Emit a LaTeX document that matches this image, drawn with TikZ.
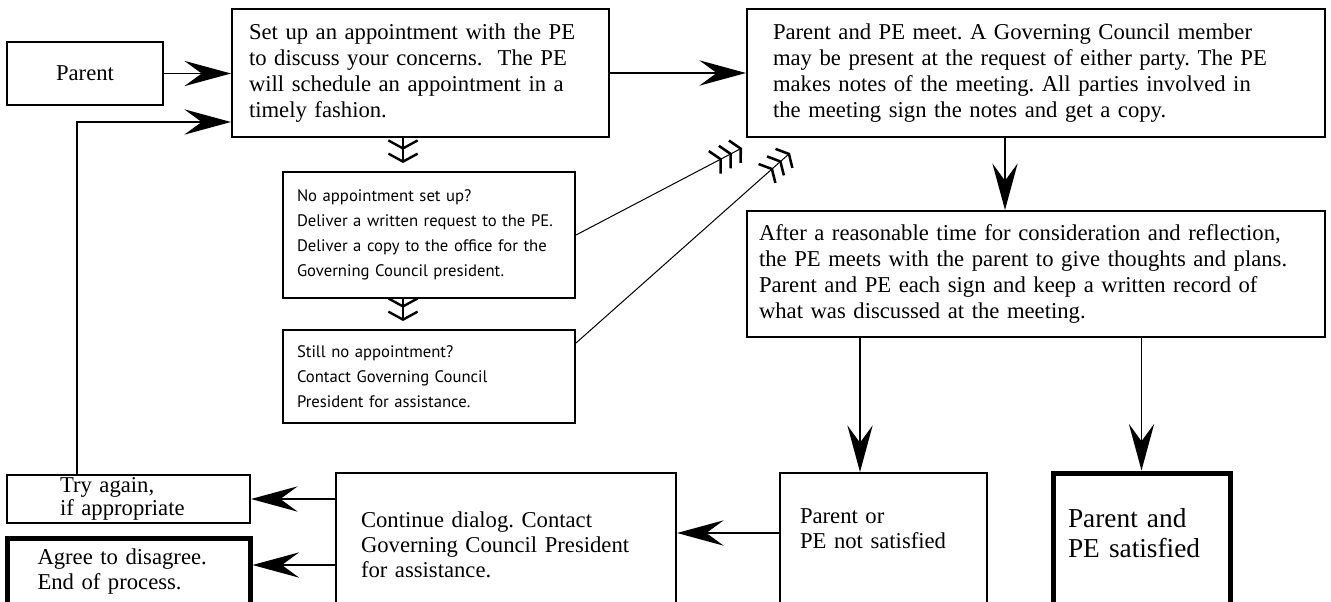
\documentclass[tikz,border=0pt]{standalone}
\usepackage{fontspec}
\setmainfont{Liberation Serif}
\newfontfamily\notefont{PT Sans}
\usetikzlibrary{arrows.meta}
\newlength{\px}
\setlength{\px}{0.75pt}
\frenchspacing

\begin{document}
\begin{tikzpicture}[x=0.75pt, y=-0.75pt,
  box/.style={draw, line width=2\px, align=left, inner ysep=0pt,
    font=\fontsize{17}{19.5}\selectfont},
  low/.style={font=\fontsize{17}{18.75}\selectfont},
  note/.style={box, font=\notefont\fontsize{12.5}{18.75}\selectfont},
  heavy/.style={line width=5\px},
  flow/.style={line width=1.6\px, -{Stealth[length=35pt, width=19pt, inset=13pt]}},
  hop/.style={line width=1.6\px, shorten >=8\px,
    -{Straight Barb[length=6pt, width=22pt, line width=1.8pt, sep=2pt]
      Straight Barb[length=6pt, width=22pt, line width=1.8pt]}},
  hint/.style={line width=1\px,
    -{Straight Barb[length=5pt, width=19pt, line width=1.9pt, sep=1.5pt]
      Straight Barb[length=5pt, width=19pt, line width=1.9pt, sep=1.5pt]
      Straight Barb[length=5pt, width=19pt, line width=1.9pt]}}]

\clip (0,0) rectangle (1331,602);

% top row
\node[box, minimum width=156\px, minimum height=63\px, align=center] (parent) at (85,73.5) {Parent};
\node[box, minimum width=377\px, minimum height=128\px, text width=343\px, inner xsep=17\px]
  (setup) at (420.5,73) {Set up an appointment with the PE\\
  to discuss your concerns.\ \ The PE\\ will schedule an appointment in a\\ timely fashion.};
\node[box, minimum width=578\px, minimum height=128\px, text width=526\px, inner xsep=26\px]
  (meet) at (1036,73) {Parent and PE meet. A Governing Council member\\
  may be present at the request of either party. The PE\\
  makes notes of the meeting. All parties involved in\\
  the meeting sign the notes and get a copy.};

% written requests
\node[note, minimum width=292\px, minimum height=126\px, text width=264\px, inner xsep=14\px]
  (noappt) at (429,235) {No appointment set up?\\ Deliver a written request to the PE.\\
  Deliver a copy to the office for the\\ Governing Council president.};
\node[note, minimum width=292\px, minimum height=93\px, text width=264\px, inner xsep=14\px]
  (stillno) at (429,376.5) {Still no appointment?\\ Contact Governing Council\\
  President for assistance.};

\node[box, minimum width=578\px, minimum height=126\px, text width=554\px, inner xsep=12\px]
  (after) at (1036,274) {After a reasonable time for consideration and reflection,\\
  the PE meets with the parent to give thoughts and plans.\\
  Parent and PE each sign and keep a written record of\\
  what was discussed at the meeting.};

% bottom row
\node[box, low, minimum width=207\px, minimum height=137\px, text width=167\px, inner xsep=20\px]
  (parentor) at (883.5,541.5) {Parent or\\ PE not satisfied\\ \mbox{}};
\node[box, heavy, minimum width=177\px, minimum height=150\px, text width=147\px, inner xsep=15\px,
  font=\fontsize{20.5}{22.5}\selectfont]
  (satisfied) at (1141.5,548) {Parent and\\ PE satisfied\\ \mbox{}};
\node[box, low, minimum width=340\px, minimum height=144\px, text width=290\px, inner xsep=25\px]
  (continue) at (506,545) {Continue dialog. Contact\\ Governing Council President\\ for assistance.};
\node[box, minimum width=243\px, minimum height=48\px, text width=137\px, inner xsep=53\px,
  font=\fontsize{17}{17.25}\selectfont]
  (tryagain) at (128.5,499) {Try again,\\ if appropriate};
\node[box, low, heavy, minimum width=243\px, minimum height=88\px, text width=182\px, inner xsep=30.5\px]
  (agree) at (128.5,582) {Agree to disagree.\\ End of process.\\ \mbox{}};

\coordinate (back) at (77,122);
\coordinate (hopx) at (403,0);
\coordinate (tipa) at (742,148);
\coordinate (tipb) at (790,153);
\coordinate (down) at (1005,0);
\coordinate (leftx) at (860,0);
\coordinate (midy) at (0,533);
\coordinate (lowy) at (0,565);

\draw[flow] (parent.east) -- (parent.east -| setup.west);
\draw[flow] (setup) -- (meet);
\draw[flow] (tryagain.north -| back) -- (back) -- (back -| setup.west);

\draw[hop] (setup.south -| hopx) -- (noappt.north -| hopx);
\draw[hop] (noappt.south -| hopx) -- (stillno.north -| hopx);
\draw[hint] (noappt.east) -- (tipa);
\draw[hint] (stillno.east |- 0,343) -- (tipb);

\draw[flow] (meet.south -| down) -- (after.north -| down);
\draw[flow] (after.south -| leftx) -- (parentor.north -| leftx);
\draw[flow] (after.south -| satisfied.north) -- (satisfied.north);

\draw[flow] (parentor.west |- midy) -- (continue.east |- midy);
\draw[flow] (continue.west |- tryagain) -- (tryagain.east);
\draw[flow] (continue.west |- lowy) -- (agree.east |- lowy);
\end{tikzpicture}
\end{document}
